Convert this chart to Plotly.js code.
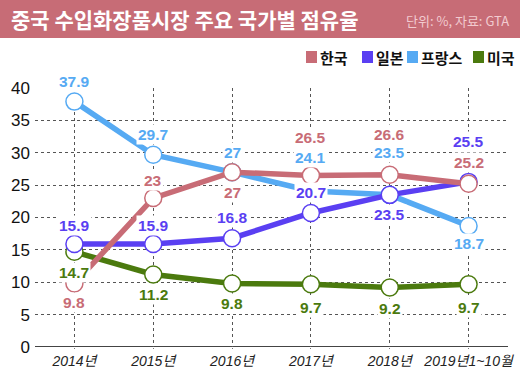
<!DOCTYPE html>
<html><head><meta charset="utf-8">
<script src="https://cdn.plot.ly/plotly-3.0.1.min.js"></script>
<style>html,body{margin:0;padding:0;background:#fff}#chart{width:520px;height:368px}</style>
</head><body><div id="chart"></div>
<script>
// ---- data ----
const categories = ['2014년','2015년','2016년','2017년','2018년','2019년1~10월'];
const korea  = [9.8, 23, 27, 26.5, 26.6, 25.2];
const japan  = [15.9, 15.9, 16.8, 20.7, 23.5, 25.5];
const france = [37.9, 29.7, 27, 24.1, 23.5, 18.7];
const usa    = [14.7, 11.2, 9.8, 9.7, 9.2, 9.7];
const seriesNames = ['한국','일본','프랑스','미국'];
const yTicks = [0,5,10,15,20,25,30,35,40];
const titleText = '중국 수입화장품시장 주요 국가별 점유율';
const sourceText = '단위: %, 자료: GTA';

// ---- styles ----
const colors = {'한국':'#c86c76','일본':'#5a3ff2','프랑스':'#56aaf3','미국':'#4b7a0e'};
const labelShift = {
  '한국':  [-19, 18, -20, 38, 40, 21],
  '일본':  [19, 19, 21, 20, -20, 40],
  '프랑스':[20, 20, 20, 33, 42, -18],
  '미국':  [-21, -20, -20, -23, -21, -23]
};
const seriesData = {'한국':korea,'일본':japan,'프랑스':france,'미국':usa};
const drawOrder = ['미국','프랑스','일본','한국'];
const legendX = [306, 362, 407, 473];
const NUM = '"Liberation Sans", Arial, "Noto Sans CJK KR", sans-serif';
const KR = '"Noto Sans CJK KR", "Liberation Sans", sans-serif';

const W = 520, H = 368, M = {l:35, r:12, t:88, b:21};
const pw = W - M.l - M.r, ph = H - M.t - M.b;
const px = x => (x - M.l) / pw;
const py = y => (H - M.b - y) / ph;

const traces = drawOrder.map(name => ({
  type:'scatter', mode:'lines+markers', name,
  x: categories, y: seriesData[name],
  line:{color:colors[name], width:5.5},
  marker:{size:17, color:'#fff', line:{color:colors[name], width:1.5}},
  showlegend:false, hoverinfo:'skip'
}));

const annotations = [];
drawOrder.forEach(name => {
  seriesData[name].forEach((v,i) => {
    annotations.push({
      x: categories[i], y: v, xref:'x', yref:'y',
      text: String(v), showarrow:false, yshift: labelShift[name][i],
      font:{family:NUM, size:15.5, color:colors[name], weight:700},
      bgcolor:'#fff', borderpad:1
    });
  });
});
// title + source
annotations.push({xref:'paper', yref:'paper', x:px(9), y:py(19), xanchor:'left', yanchor:'middle',
  text:titleText, showarrow:false, font:{family:KR, size:21, color:'#fff', weight:700}});
annotations.push({xref:'paper', yref:'paper', x:px(511), y:py(20), xanchor:'right', yanchor:'middle',
  text:sourceText, showarrow:false, font:{family:KR, size:13, color:'#f2cbd0'}});

const shapes = [
  {type:'rect', xref:'paper', yref:'paper', x0:px(0), x1:px(W), y0:py(38), y1:py(0),
   fillcolor:'#c76c76', line:{width:0}, layer:'below'},
  {type:'line', xref:'paper', yref:'y', x0:0, x1:1, y0:0, y1:0, line:{color:'#444', width:2}, layer:'below'}
];
seriesNames.forEach((name,k) => {
  shapes.push({type:'rect', xref:'paper', yref:'paper', x0:px(legendX[k]), x1:px(legendX[k]+11),
    y0:py(63), y1:py(51), fillcolor:colors[name], line:{width:0}});
  annotations.push({xref:'paper', yref:'paper', x:px(legendX[k]+12), y:py(57), xanchor:'left', yanchor:'middle',
    text:name, showarrow:false, font:{family:KR, size:15, color:'#111', weight:700}});
});

const layout = {
  width:W, height:H, margin:M, paper_bgcolor:'#fff', plot_bgcolor:'#fff',
  showlegend:false,
  xaxis:{type:'category', range:[-0.5,5.5], showgrid:true, gridcolor:'#555', griddash:'dot', gridwidth:1,
    ticks:'outside', ticklen:1, tickcolor:'#777', showline:false, zeroline:false,
    tickfont:{family:NUM, size:14, color:'#222', style:'italic'}, fixedrange:true},
  yaxis:{range:[0,40], tickvals:yTicks, showgrid:true, gridcolor:'#555', griddash:'dot', gridwidth:1,
    zeroline:false, showline:false, ticks:'', ticklabelstandoff:4,
    tickfont:{family:NUM, size:17, color:'#111'}, fixedrange:true},
  shapes, annotations
};
Plotly.newPlot('chart', traces, layout, {displayModeBar:false, staticPlot:true});
</script></body></html>
